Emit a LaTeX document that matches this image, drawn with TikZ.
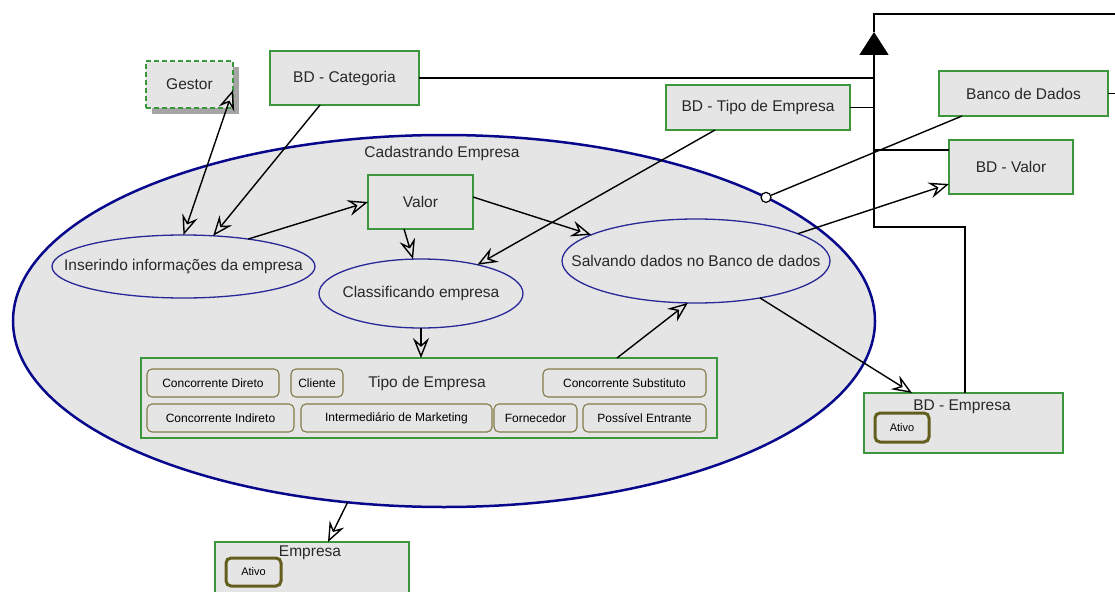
\documentclass[tikz,border=0pt]{standalone}
\usepackage{fontspec}
\setmainfont{Liberation Sans}
\usetikzlibrary{shapes.geometric, arrows.meta, calc, shadows}

\definecolor{boxfill}{RGB}{229,229,229}
\definecolor{boxline}{RGB}{60,150,60}
\definecolor{navy}{RGB}{8,8,140}
\definecolor{usecase}{RGB}{40,40,150}
\definecolor{olive}{RGB}{130,122,70}
\definecolor{oliveDark}{RGB}{100,94,30}
\definecolor{ink}{RGB}{40,40,40}
\definecolor{shadowgray}{RGB}{165,165,165}

\begin{document}
\begin{tikzpicture}[x=1pt, y=-1pt,
  txt/.style={text=ink, font=\fontsize{15.5}{18}\selectfont, inner sep=0pt},
  classbox/.style={rectangle, draw=boxline, fill=boxfill, line width=1.5pt,
    inner sep=0pt, outer sep=0pt, text=ink, font=\fontsize{15.5}{18}\selectfont},
  ucase/.style={ellipse, draw=usecase, fill=boxfill, line width=1.3pt,
    inner sep=0pt, outer sep=0pt},
  tag/.style={rectangle, rounded corners=5pt, draw=olive, line width=1.1pt,
    fill=boxfill, inner sep=0pt, text=black, minimum height=28pt,
    font=\fontsize{12}{14}\selectfont},
  ativo/.style={rectangle, rounded corners=5pt, draw=oliveDark, line width=3pt,
    fill=boxfill, inner sep=0pt, text=black, font=\fontsize{11}{13}\selectfont},
  link/.style={line width=1.4pt, black},
  head/.tip={Stealth[open, length=20pt, width=16pt, inset=7pt, line width=1.4pt]},
  arr/.style={link, -head},
  dblarr/.style={link, head-head}
]
\useasboundingbox (0,0) rectangle (1115,591);
\fill[white] (0,0) rectangle (1115,591);
\clip (0,0) rectangle (1115,591);

% system boundary
\node[ellipse, draw=navy, fill=boxfill, line width=2.5pt, minimum width=862pt,
  minimum height=372pt, inner sep=0pt, outer sep=0pt] (cad) at (444,321) {};
\node[txt] (cadT) at (442,153) {Cadastrando Empresa};

% classes
\node[classbox, dash pattern=on 5pt off 3pt,
  general shadow={fill=shadowgray, shadow xshift=6pt, shadow yshift=-6pt},
  minimum width=87pt, minimum height=47pt] (gestor) at (189.5,84.5) {Gestor};
\node[classbox, minimum width=149pt, minimum height=54pt] (bdcat) at (344.5,78) {BD - Categoria};
\node[classbox, minimum width=184pt, minimum height=45pt] (bdtipo) at (758,107.5) {BD - Tipo de Empresa};
\node[classbox, minimum width=169pt, minimum height=45pt] (banco) at (1023.5,93.5) {Banco de Dados};
\node[classbox, minimum width=124pt, minimum height=54pt] (bdvalor) at (1011,167) {BD - Valor};
\node[classbox, minimum width=105pt, minimum height=54pt] (valor) at (420.5,202) {Valor};

% use cases
\node[ucase, minimum width=263pt, minimum height=63pt] (inserir) at (183.5,266.5) {};
\node[txt] (inserirT) at (inserir) {Inserindo informações da empresa};
\node[ucase, minimum width=204pt, minimum height=69pt] (classif) at (421,293.5) {};
\node[txt] (classifT) at (classif) {Classificando empresa};
\node[ucase, minimum width=268pt, minimum height=84pt] (salvar) at (696,261) {};
\node[txt] (salvarT) at (salvar) {Salvando dados no Banco de dados};

% company types
\node[classbox, minimum width=576pt, minimum height=80pt] (tipoemp) at (429,398) {};
\node[txt] (tipoempT) at (427,383) {Tipo de Empresa};
\node[tag, minimum width=132pt] (cdir) at (213,383) {Concorrente Direto};
\node[tag, minimum width=52pt] (cli) at (317,383) {Cliente};
\node[tag, minimum width=163pt] (csub) at (624.5,383) {Concorrente Substituto};
\node[tag, minimum width=147pt] (cind) at (220.5,418) {Concorrente Indireto};
\node[tag, minimum width=191pt] (imkt) at (396.5,418) {Intermediário de Marketing};
\node[tag, minimum width=83pt] (forn) at (535.5,418) {Fornecedor};
\node[tag, minimum width=123pt] (pent) at (644.5,418) {Possível Entrante};

% company records
\node[classbox, minimum width=199pt, minimum height=60pt] (bdemp) at (963.5,423) {};
\node[txt] (bdempT) at (962,407) {BD - Empresa};
\node[ativo, minimum width=54pt, minimum height=29pt] (bdempA) at (902,427.5) {Ativo};
\node[classbox, minimum width=194pt, minimum height=60pt] (emp) at (312,572) {};
\node[txt] (empT) at (310,553) {Empresa};
\node[ativo, minimum width=55pt, minimum height=28pt] (empA) at (253.5,572) {Ativo};

% associations
\draw[dblarr] ([yshift=-5.5pt]gestor.east) -- (inserir.north);
\draw[arr] ([xshift=-24.5pt]bdcat.south) -- (inserir.46);
\draw[arr] (inserir.23) -- (valor.west);
\draw[arr] ([yshift=5pt]valor.east) -- (salvar.166);
\draw[arr] ([xshift=-16.5pt]valor.south) -- (classif.103);
\draw[arr] (classif.south) -- (classif.south |- tipoemp.north);
\draw[arr] ([xshift=188pt]tipoemp.north) -- (salvar.259);
\draw[arr] ([xshift=-43pt]bdtipo.south) -- (classif.27);
\draw[arr] (salvar.15) -- ([yshift=-17pt]bdvalor.west);
\draw[arr] (salvar.330) -- ([xshift=-51.5pt]bdemp.north);
\draw[arr] (cad.242) -- ([xshift=16pt]emp.north);
\node[circle, draw, fill=white, line width=1.2pt, minimum size=10pt, inner sep=0pt] (port) at (cad.21) {};
\draw[link] ([xshift=-61.5pt]banco.south) -- (port);

% generalisation tree
\coordinate (tip) at (874,32);
\coordinate (bend) at (874,227);
\coordinate (topR) at (1115,14);
\draw[link, line width=1.7pt, -{Triangle[length=23pt, width=29pt]}] ([xshift=1.5pt]bdemp.north) |- (bend) -- (tip);
\draw[link] (tip) |- (topR);
\draw[link] (bdcat.east) -- (bdcat.east -| tip);
\draw[link] (bdtipo.east) -- (bdtipo.east -| tip);
\draw[link] ([yshift=17pt]bdvalor.west) -- ([yshift=17pt]bdvalor.west -| tip);
\draw[link] (banco.east) -- (banco.east -| topR);
\end{tikzpicture}
\end{document}
